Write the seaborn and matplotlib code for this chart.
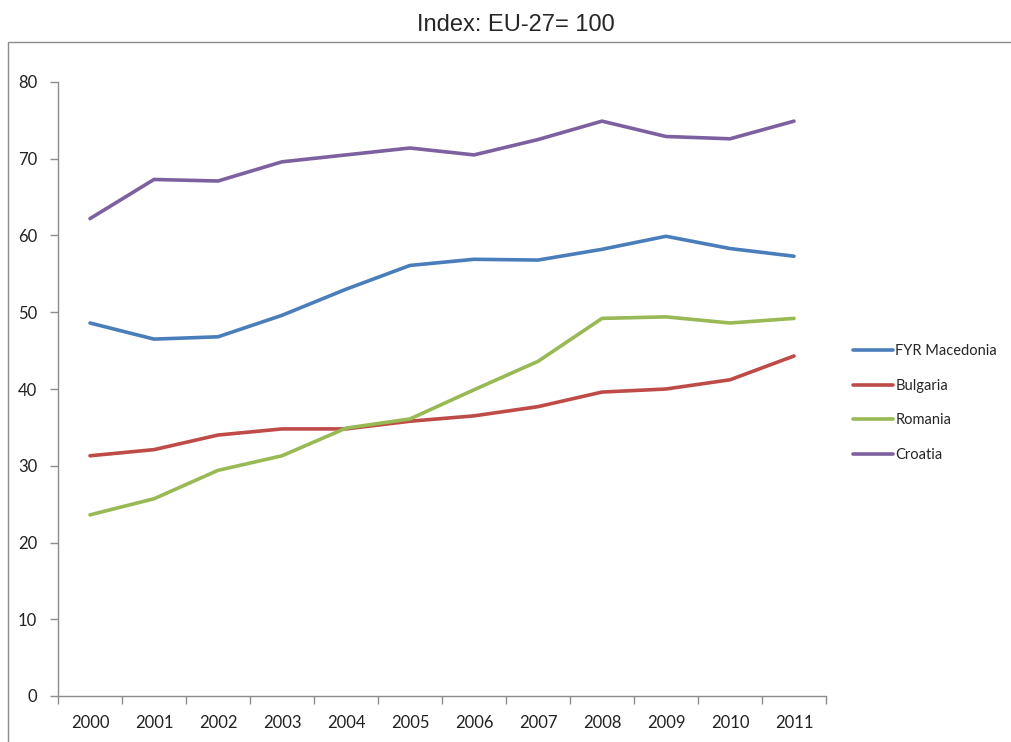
import numpy as np
import pandas as pd
import matplotlib
matplotlib.use("Agg")
import matplotlib.pyplot as plt
import seaborn as sns
from matplotlib.patches import Rectangle

years = list(range(2000, 2012))
countries = ["FYR Macedonia", "Bulgaria", "Romania", "Croatia"]
macedonia = [48.6, 46.5, 46.8, 49.6, 53.0, 56.1, 56.9, 56.8, 58.2, 59.9, 58.3, 57.3]
bulgaria = [31.3, 32.1, 34.0, 34.8, 34.8, 35.8, 36.5, 37.7, 39.6, 40.0, 41.2, 44.3]
romania = [23.6, 25.7, 29.4, 31.3, 34.9, 36.1, 39.9, 43.6, 49.2, 49.4, 48.6, 49.2]
croatia = [62.2, 67.3, 67.1, 69.6, 70.5, 71.4, 70.5, 72.5, 74.9, 72.9, 72.6, 74.9]
colors = ["#4A7EBB", "#BE4B48", "#98B954", "#7D60A0"]

df = pd.DataFrame({
    "year": years * 4,
    "country": np.repeat(countries, len(years)),
    "value": macedonia + bulgaria + romania + croatia,
})

sns.set_style("white")
plt.rcParams["font.family"] = ["Lato", "DejaVu Sans"]

fig = plt.figure(figsize=(10.12, 7.42), dpi=100)
ax = fig.add_axes([58 / 1012, 1 - 696 / 742, (826 - 58) / 1012, (696 - 82) / 742])

sns.lineplot(data=df, x="year", y="value", hue="country", hue_order=countries,
             palette=colors, linewidth=2.6, ax=ax, legend=True)

# outer chart border (top and left visible)
fig.patches.append(Rectangle((8 / 1012, -0.02), 1.0, 1 - 42 / 742 + 0.02,
                             transform=fig.transFigure, fill=False,
                             edgecolor="#8c8c8c", linewidth=1.0))
fig.text(516 / 1012, 1 - 25 / 742, "Index: EU-27= 100", ha="center", va="center",
         fontsize=17, family=["Liberation Sans", "DejaVu Sans"])

ax.set_xlim(1999.5, 2011.5)
ax.set_ylim(0, 80)
ax.set_yticks(range(0, 81, 10))
ax.set_xticks(np.arange(1999.5, 2012, 1))
ax.set_xticklabels([])
ax.set_xticks(years, minor=True)
ax.set_xticklabels([str(y) for y in years], minor=True)
ax.tick_params(axis="x", which="major", bottom=True, length=6, color="#8c8c8c",
               width=1, direction="out")
ax.tick_params(axis="x", which="minor", bottom=True, length=0, pad=14,
               labelsize=12, labelcolor="#222222")
ax.tick_params(axis="y", left=True, length=6, color="#8c8c8c", width=1, direction="out",
               labelsize=12, labelcolor="#222222", pad=9)
ax.set_xlabel("")
ax.set_ylabel("")
for s in ["top", "right"]:
    ax.spines[s].set_visible(False)
for s in ["left", "bottom"]:
    ax.spines[s].set_color("#8c8c8c")
    ax.spines[s].set_linewidth(1)

leg = ax.legend(loc="center left", bbox_to_anchor=(1.035, 0.477), frameon=False,
                fontsize=10.5, handlelength=2.75, handletextpad=0.15, labelspacing=1.4,
                borderpad=0, borderaxespad=0)
for h in leg.get_lines():
    h.set_linewidth(2.6)

fig.savefig("out.png", dpi=100)
